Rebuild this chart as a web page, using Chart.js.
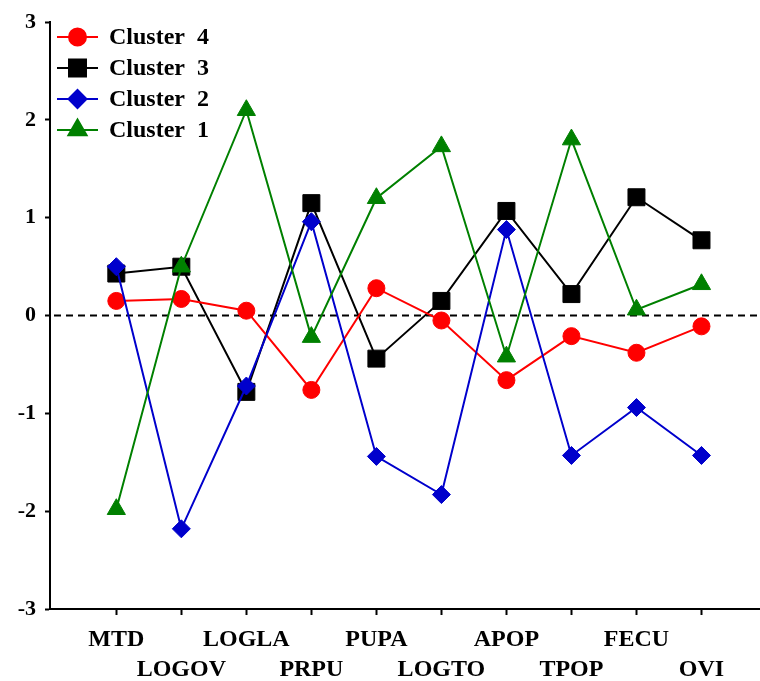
<!DOCTYPE html>
<html>
<head>
<meta charset="utf-8">
<script src="https://cdn.jsdelivr.net/npm/chart.js@4.4.1/dist/chart.umd.min.js"></script>
<style>
    html, body { margin: 0; padding: 0; background: #fff; }
    #wrap { width: 760px; height: 681px; }
</style>
</head>
<body>
<div id="wrap"><canvas id="clusterChart" width="760" height="681"></canvas></div>
<script>
// Variables on the x axis (labels alternate between two rows)
const variables = ['MTD', 'LOGOV', 'LOGLA', 'PRPU', 'PUPA', 'LOGTO', 'APOP', 'TPOP', 'FECU', 'OVI'];

// Cluster profiles (standardised means)
const cluster4 = [0.15, 0.17, 0.05, -0.76, 0.28, -0.05, -0.66, -0.21, -0.38, -0.11];
const cluster3 = [0.43, 0.50, -0.78, 1.15, -0.44, 0.15, 1.07, 0.22, 1.21, 0.77];
const cluster2 = [0.50, -2.18, -0.72, 0.96, -1.44, -1.83, 0.88, -1.43, -0.94, -1.43];
const cluster1 = [-1.98, 0.50, 2.10, -0.22, 1.20, 1.73, -0.42, 1.80, 0.06, 0.32];

const yTicks = [-3, -2, -1, 0, 1, 2, 3];

const SERIF = "'Liberation Serif', 'Times New Roman', serif";

function toPoints(values) {
    return values.map((v, i) => ({ x: i, y: v }));
}

// Dashed reference line at y = 0
const zeroLine = {
    id: 'zeroLine',
    beforeDatasetsDraw(chart) {
        const { ctx, chartArea, scales } = chart;
        const y = scales.y.getPixelForValue(0);
        ctx.save();
        ctx.strokeStyle = '#000';
        ctx.lineWidth = 2;
        ctx.setLineDash([7, 5]);
        ctx.beginPath();
        ctx.moveTo(chartArea.left + 4, y);
        ctx.lineTo(chartArea.right, y);
        ctx.stroke();
        ctx.restore();
    }
};

// Legend drawn inside the plot, top-left
const insideLegend = {
    id: 'insideLegend',
    afterDatasetsDraw(chart) {
        const { ctx } = chart;
        const x0 = 57, x1 = 98, textX = 109;
        ctx.save();
        chart.data.datasets.forEach((ds, i) => {
            const y = 37 + i * 31;
            ctx.strokeStyle = ds.borderColor;
            ctx.lineWidth = 2;
            ctx.setLineDash([]);
            ctx.beginPath();
            ctx.moveTo(x0, y);
            ctx.lineTo(x1, y);
            ctx.stroke();
            ctx.fillStyle = ds.pointBackgroundColor;
            ctx.strokeStyle = ds.pointBackgroundColor;
            Chart.helpers.drawPoint(ctx, {
                pointStyle: ds.pointStyle,
                radius: ds.pointRadius,
                borderWidth: 1,
                rotation: 0
            }, (x0 + x1) / 2, y);
            ctx.fillStyle = '#000';
            ctx.font = 'bold 24px ' + SERIF;
            ctx.textBaseline = 'middle';
            ctx.textAlign = 'left';
            ctx.fillText(ds.label, textX, y + 1);
        });
        ctx.restore();
    }
};

function series(label, data, color, style, radius, order) {
    return {
        label: label,
        data: toPoints(data),
        borderColor: color,
        backgroundColor: color,
        pointBackgroundColor: color,
        pointBorderColor: color,
        pointStyle: style,
        pointRadius: radius,
        pointHoverRadius: radius,
        pointBorderWidth: 1,
        borderWidth: 2,
        tension: 0,
        order: order
    };
}

new Chart(document.getElementById('clusterChart').getContext('2d'), {
    type: 'line',
    data: {
        datasets: [
            series('Cluster  4', cluster4, '#ff0000', 'circle', 8.5, 3),
            series('Cluster  3', cluster3, '#000000', 'rect', 12, 4),
            series('Cluster  2', cluster2, '#0000cc', 'rectRot', 9, 2),
            series('Cluster  1', cluster1, '#008000', 'triangle', 10.5, 1)
        ]
    },
    options: {
        responsive: false,
        animation: false,
        layout: { autoPadding: false, padding: { top: 20, right: 0, left: 0, bottom: 0 } },
        plugins: {
            legend: { display: false },
            tooltip: { enabled: false }
        },
        scales: {
            x: {
                type: 'linear',
                min: -1.02,
                max: 9.9,
                afterBuildTicks: (scale) => {
                    scale.ticks = variables.map((_, i) => ({ value: i }));
                },
                afterFit: (scale) => {
                    scale.height = 72;
                    scale.paddingLeft = 0;
                    scale.paddingRight = 0;
                },
                grid: { drawOnChartArea: false, tickLength: 6, tickWidth: 2, color: '#000' },
                border: { color: '#000', width: 2 },
                ticks: {
                    autoSkip: false,
                    maxRotation: 0,
                    padding: 10,
                    color: '#000',
                    font: { family: SERIF, size: 24, weight: 'bold', lineHeight: 1.25 },
                    callback: (v) => {
                        const name = variables[v];
                        return v % 2 === 0 ? [name, ''] : ['', name];
                    }
                }
            },
            y: {
                min: -3,
                max: 3,
                afterBuildTicks: (scale) => {
                    scale.ticks = yTicks.map(v => ({ value: v }));
                },
                afterFit: (scale) => { scale.width = 50; },
                grid: { drawOnChartArea: false, tickLength: 5, tickWidth: 2, color: '#000' },
                border: { color: '#000', width: 2 },
                ticks: {
                    padding: 9,
                    color: '#000',
                    font: { family: SERIF, size: 22, weight: 'bold' },
                    callback: (v) => String(v)
                }
            }
        }
    },
    plugins: [zeroLine, insideLegend]
});
</script>
</body>
</html>
